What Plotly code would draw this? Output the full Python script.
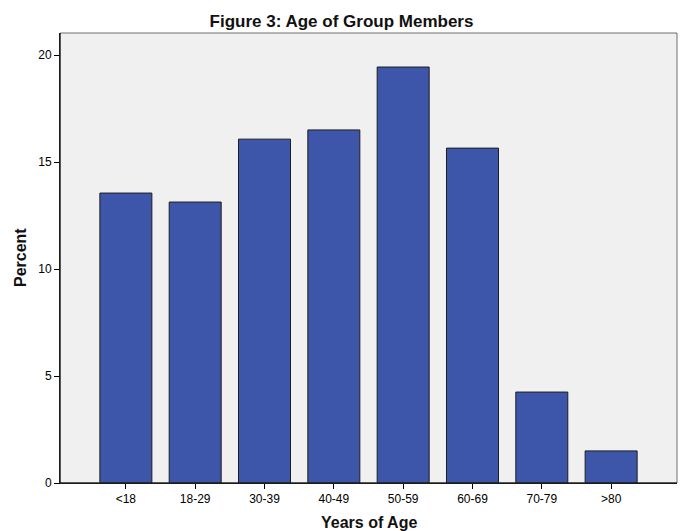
import plotly.graph_objects as go

categories = ["<18", "18-29", "30-39", "40-49", "50-59", "60-69", "70-79", ">80"]
percent = [13.55, 13.13, 16.07, 16.5, 19.44, 15.65, 4.25, 1.5]
y_ticks = [0, 5, 10, 15, 20]

fig = go.Figure(go.Bar(
    x=categories, y=percent,
    marker=dict(color="#3d56a9", line=dict(color="#1e1e1e", width=1)),
    width=0.75,
))

font = "Liberation Sans, Arial, sans-serif"
H = 531
fig.update_layout(
    width=683, height=531,
    margin=dict(l=60, r=6, t=33, b=48),
    paper_bgcolor="white", plot_bgcolor="#f0f0f0",
    title=dict(text="<b>Figure 3: Age of Group Members</b>", x=0.5, xanchor="center",
               y=1 - 21/H, yanchor="middle",
               font=dict(family=font, size=17, color="#111")),
    font=dict(family=font, size=12, color="black"),
    showlegend=False,
    bargap=0.25,
)
fig.update_xaxes(
    type="category", range=[-0.95, 7.95], automargin=False,
    showline=True, linecolor="black", linewidth=1,
    ticks="outside", ticklen=5, tickcolor="black",
    showgrid=False, zeroline=False,
    tickfont=dict(family=font, size=12),
)
fig.update_yaxes(
    range=[0, 21.03], tickvals=y_ticks, automargin=False,
    showline=True, linecolor="black", linewidth=1,
    ticks="outside", ticklen=5, tickcolor="black",
    showgrid=False, zeroline=False,
    tickfont=dict(family=font, size=12),
)
fig.add_annotation(text="<b>Years of Age</b>", xref="paper", yref="paper",
                   x=0.5, y=-(522 - 483) / (483 - 33), xanchor="center", yanchor="middle",
                   showarrow=False, font=dict(family=font, size=16, color="#111"))
fig.add_annotation(text="<b>Percent</b>", xref="paper", yref="paper",
                   x=-(60 - 20) / (677 - 60), y=0.5, xanchor="center", yanchor="middle",
                   textangle=-90, showarrow=False, font=dict(family=font, size=16, color="#111"))
fig.add_shape(type="rect", xref="paper", yref="paper", x0=0, x1=1, y0=0, y1=1,
              line=dict(color="#6e6e6e", width=1), layer="above")
fig.add_shape(type="line", xref="paper", yref="paper", x0=0, x1=0, y0=0, y1=1,
              line=dict(color="black", width=1), layer="above")
fig.add_shape(type="line", xref="paper", yref="paper", x0=0, x1=1, y0=0, y1=0,
              line=dict(color="black", width=1), layer="above")

fig.write_html("out.html", config={"displayModeBar": False},
               post_script="document.body.style.margin='0px';document.body.style.overflow='hidden';")
